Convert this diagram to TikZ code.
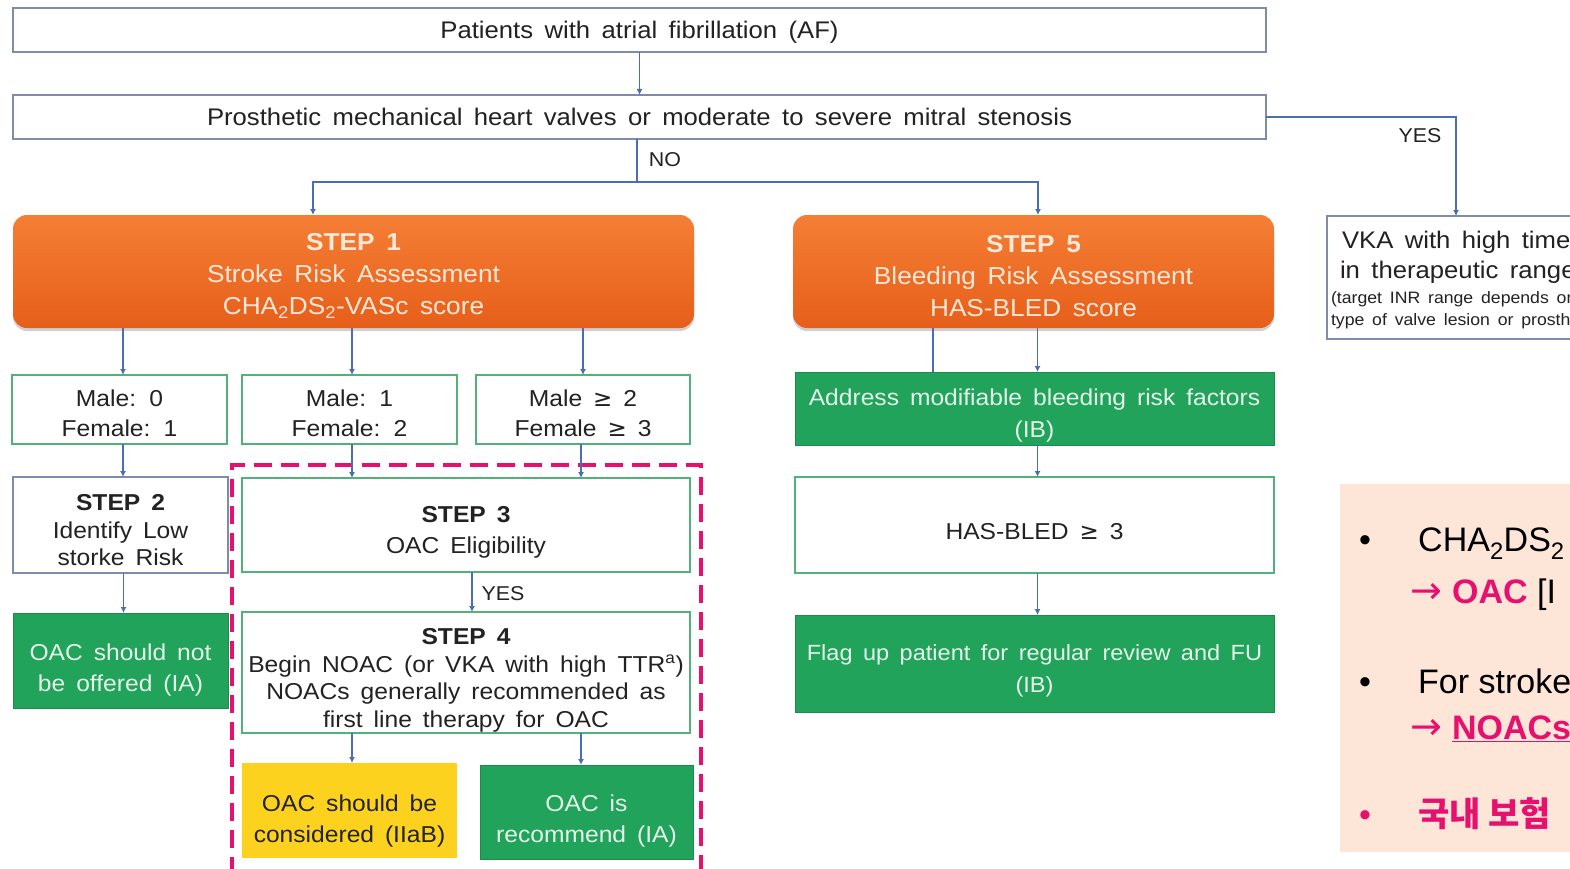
\documentclass[tikz,border=0pt]{standalone}
\usepackage{fontspec}
\setmainfont{Liberation Sans}[WordSpace=1.6,FakeStretch=1.07]
\newfontfamily\notefont{Liberation Sans}
\newfontfamily\symf{DejaVu Sans}
\newfontfamily\krfont{Noto Sans CJK KR}
\usetikzlibrary{arrows.meta,shadows,calc}
\newcommand\fsz[2]{\fontsize{#1}{#2}\selectfont}
\newcommand\dn[1]{\rule{0pt}{#1pt}}
\definecolor{txt}{HTML}{222222}
\definecolor{bbord}{HTML}{7F8CA8}
\definecolor{gbord}{HTML}{52B27A}
\definecolor{gfillc}{HTML}{21A35B}
\definecolor{gtxt}{HTML}{E4F4E8}
\definecolor{or1}{HTML}{F57E35}
\definecolor{or2}{HTML}{E65F1A}
\definecolor{otxt}{HTML}{FDE8D8}
\definecolor{arrc}{HTML}{4A6DB4}
\definecolor{pinkc}{HTML}{E8106E}
\definecolor{peach}{HTML}{FDE6D8}
\definecolor{yelc}{HTML}{FDD21E}
\tikzset{
  basetxt/.style={font={\fsz{23}{30}}, text=txt, align=center, inner sep=0pt, outer sep=0pt},
  bluebox/.style={basetxt, draw=bbord, line width=1.8pt, fill=white},
  gbox/.style={basetxt, draw=gbord, line width=1.8pt, fill=white},
  gfill/.style={basetxt, fill=gfillc, draw=gfillc!85!black, line width=0.8pt, text=gtxt},
  ybox/.style={basetxt, fill=yelc, draw=none, text=txt},
  obox/.style={basetxt, rounded corners=14pt, top color=or1, bottom color=or2, draw=none, text=otxt,
    font={\fsz{24.5}{32}},
    drop shadow={shadow xshift=0pt, shadow yshift=-3pt, opacity=.3, fill=black!60}},
  arr/.style={draw=arrc, line width=1.2pt, -{Latex[length=6pt,width=6pt]}},
  lin/.style={draw=arrc, line width=1.2pt},
  lab/.style={font={\fsz{20}{24}}, text=txt, inner sep=0pt},
  pinkframe/.style={draw=pinkc, line width=3.8pt, dash pattern=on 18pt off 9pt, inner sep=0pt},
  notetxt/.style={font={\notefont\fsz{34}{40}}, text=black, inner sep=0pt, anchor=base west}
}
\begin{document}
\begin{tikzpicture}[x=1pt,y=-1pt]
\useasboundingbox (0,0) rectangle (1570,869);
\clip (0,0) rectangle (1570,869);
\fill[white] (0,0) rectangle (1570,869);

% top boxes
\node[bluebox, minimum width=1253, minimum height=44, font={\fsz{24}{28}}] (af) at (639.5,30) {\dn{22}Patients with atrial fibrillation (AF)};
\node[bluebox, minimum width=1253, minimum height=44, font={\fsz{24}{28}}] (pm) at (639.5,117) {Prosthetic mechanical heart valves or moderate to severe mitral stenosis};

% step 1 and 5
\node[obox, minimum width=681, minimum height=113] (s1) at (353.5,271.5) {\dn{26}\textbf{STEP 1}\\Stroke Risk Assessment\\CHA\textsubscript{2}DS\textsubscript{2}-VASc score};
\node[obox, minimum width=481, minimum height=113] (s5) at (1033.5,271.5) {\dn{26}\textbf{STEP 5}\\Bleeding Risk Assessment\\HAS-BLED score};

% VKA box
\node[bluebox, anchor=north west, minimum width=320, minimum height=123] (vka) at (1327,216) {};
\node[basetxt, anchor=north west, align=left, font={\fsz{24}{30}}] (vkat) at (1340,231) {\hspace{2pt}VKA with high time\\in therapeutic range};
\node[basetxt, anchor=north west, align=left, font={\fsz{16.5}{22}}] (vkas) at (1331,292) {(target INR range depends on\\type of valve lesion or prosthesis)};

% score boxes
\node[gbox, minimum width=215, minimum height=69] (m1) at (119.5,409.5) {\dn{25}Male: 0\\Female: 1};
\node[gbox, minimum width=215, minimum height=69] (m2) at (349.5,409.5) {\dn{25}Male: 1\\Female: 2};
\node[gbox, minimum width=214, minimum height=69] (m3) at (583,409.5) {\dn{25}Male {\symf ≥} 2\\Female {\symf ≥} 3};

% left column
\node[bluebox, minimum width=215, minimum height=96, font={\fsz{23}{27.5}}] (s2) at (120.5,525) {\dn{27}\textbf{STEP 2}\\Identify Low\\storke Risk};
\node[gfill, minimum width=215, minimum height=95, font={\fsz{23}{31}}] (no) at (120.5,660.5) {\dn{36}OAC should not\\be offered (IA)};

% middle column
\node[gbox, minimum width=448, minimum height=94, font={\fsz{23}{31}}] (s3) at (466,525) {\dn{31}\textbf{STEP 3}\\OAC Eligibility};
\node[gbox, minimum width=448, minimum height=121, font={\fsz{23}{27.7}}] (s4) at (466,672.5) {\dn{32}\textbf{STEP 4}\\Begin NOAC (or VKA with high TTR\textsuperscript{a})\\NOACs generally recommended as\\first line therapy for OAC};
\node[ybox, minimum width=215, minimum height=95, font={\fsz{23}{31}}] (yel) at (349.5,810.5) {\dn{38}OAC should be\\considered (IIaB)};
\node[gfill, minimum width=213, minimum height=94, font={\fsz{23}{31}}] (rec) at (586.5,812) {\dn{35}OAC is\\recommend (IA)};
\node[pinkframe, minimum width=469, minimum height=425] (frame) at (466.5,677.5) {};

% right column
\node[gfill, minimum width=479, minimum height=73, font={\fsz{23}{32}}] (ad) at (1034.5,408.5) {\dn{31}Address modifiable bleeding risk factors\\(IB)};
\node[gbox, minimum width=479, minimum height=96] (hb) at (1034.5,525) {\dn{29}HAS-BLED {\symf ≥} 3};
\node[gfill, minimum width=479, minimum height=97, font={\fsz{22}{32}}] (fl) at (1034.5,663.5) {\dn{31}Flag up patient for regular review and FU\\(IB)};

% note box
\node[fill=peach, draw=none, anchor=north west, minimum width=260, minimum height=368, inner sep=0pt] (note) at (1340,484) {};
\node[notetxt, anchor=base] (b1) at (1365,551) {•};
\node[notetxt] (n1) at (1418,551) {CHA\textsubscript{2}DS\textsubscript{2}};
\node[notetxt] (n2) at (1410,603) {\textcolor{pinkc}{{\symf\fsz{38}{40}→}\kern10pt\textbf{OAC}} [I};
\node[notetxt, anchor=base] (b2) at (1365,693) {•};
\node[notetxt] (n3) at (1418,693) {For stroke};
\node[notetxt, text=pinkc] (n4) at (1410,739) {{\symf\fsz{38}{40}→}\kern10pt\underline{\textbf{NOACs}}};
\node[notetxt, anchor=base, text=pinkc] (b3) at (1365,826) {•};
\node[notetxt, text=pinkc, font={\krfont\bfseries\fsz{34}{40}}] (n5) at (1418,826) {국내 보험};

% connectors
\draw[arr] (af.south) -- (pm.north);
\path (pm.south) ++(-2.5,43) coordinate (jn);
\draw[lin] (pm.south -| jn) -- (jn);
\draw[arr] (jn) -| ([xshift=-40.5]s1.north);
\draw[arr] (jn) -| ([xshift=4.5]s5.north);
\node[lab] (nolab) at (665,160) {NO};
\draw[arr] (pm.east) -| ([xshift=129]vka.north west);
\node[lab] (yes1) at (1420,136) {YES};

\draw[arr] ([xshift=3.5]s1.south -| m1.north) -- ([xshift=3.5]m1.north);
\draw[arr] ([xshift=2.5]s1.south -| m2.north) -- ([xshift=2.5]m2.north);
\draw[arr] (s1.south -| m3.north) -- (m3.north);
\draw[arr] ([xshift=3.5]m1.south) -- ([xshift=3.5]m1.south |- s2.north);
\draw[arr] ([xshift=2.5]m2.south) -- ([xshift=2.5]m2.south |- s3.north);
\draw[arr] ([xshift=-2]m3.south) -- ([xshift=-2]m3.south |- s3.north);
\draw[arr] ([xshift=3]s2.south) -- ([xshift=3]no.north);
\draw[arr] ([xshift=6]s3.south) -- ([xshift=6]s4.north);
\node[lab] (yes2) at (503,594) {YES};
\draw[arr] ([xshift=2.5]s4.south -| yel.north) -- ([xshift=2.5]yel.north);
\draw[arr] ([xshift=-5.5]s4.south -| rec.north) -- ([xshift=-5.5]rec.north);

\draw[arr] ([xshift=4]s5.south) -- ([xshift=4]s5.south |- ad.north);
\draw[lin] ([xshift=-100.5]s5.south) -- ([xshift=-100.5]s5.south |- ad.north);
\draw[arr] ([xshift=3]ad.south) -- ([xshift=3]hb.north);
\draw[arr] ([xshift=3]hb.south) -- ([xshift=3]fl.north);
\end{tikzpicture}
\end{document}
